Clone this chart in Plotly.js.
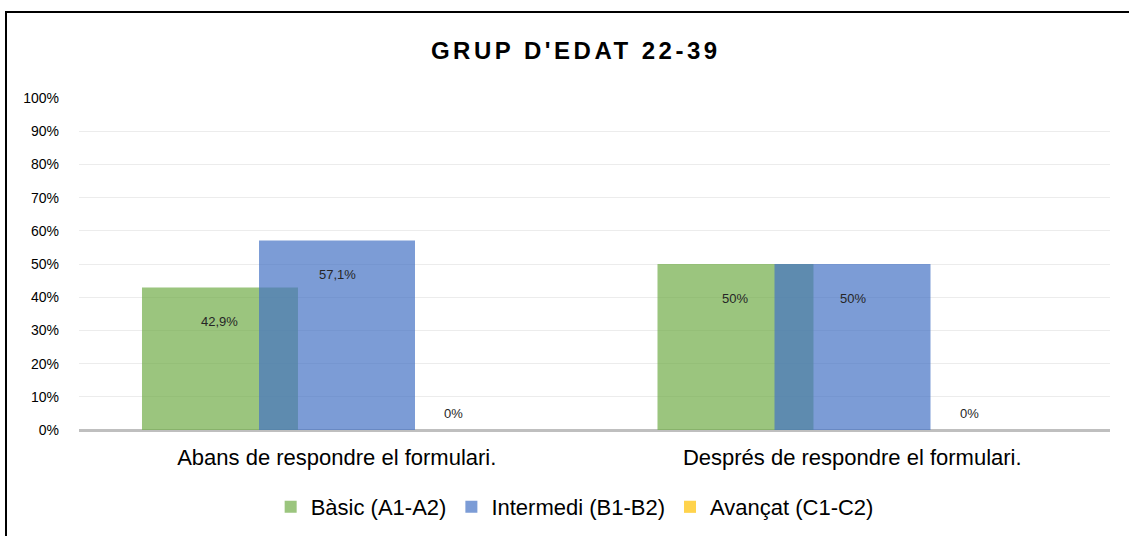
<!DOCTYPE html>
<html>
<head>
<meta charset="utf-8">
<script src="https://cdn.plot.ly/plotly-3.0.1.min.js"></script>
<style>
  html, body { margin: 0; padding: 0; background: #fff; }
  #wrap { position: relative; width: 1129px; height: 536px; overflow: hidden; }
  #chart { width: 1129px; height: 536px; }
  #frame { position: absolute; left: 5px; top: 11px; width: 1200px; height: 600px;
           border-left: 2px solid #000; border-top: 2px solid #000; pointer-events: none; }
  .gtitle { letter-spacing: 3.5px; }
</style>
</head>
<body>
<div id="wrap">
  <div id="chart"></div>
  <div id="frame"></div>
</div>
<script>
const categories = ["Abans de respondre el formulari.", "Després de respondre el formulari."];
const seriesNames = ["Bàsic (A1-A2)", "Intermedi (B1-B2)", "Avançat (C1-C2)"];
const basic = [42.9, 50];
const intermedi = [57.1, 50];
const avancat = [0, 0];
const labelsBasic = ["42,9%", "50%"];
const labelsIntermedi = ["57,1%", "50%"];
const labelsAvancat = ["0%", "0%"];
const yTickVals = [0, 10, 20, 30, 40, 50, 60, 70, 80, 90, 100];
const yTickText = ["0%", "10%", "20%", "30%", "40%", "50%", "60%", "70%", "80%", "90%", "100%"];

const FONT = "Liberation Sans, Arial, sans-serif";
const colors = ["rgba(112,173,71,0.7)", "rgba(68,114,196,0.7)", "rgba(255,192,0,0.7)"];
const barWidth = 0.3026;
const offsets = [-0.3778, -0.1508, 0.0761];
const seriesVals = [basic, intermedi, avancat];
const seriesLabels = [labelsBasic, labelsIntermedi, labelsAvancat];

const xIdx = categories.map((c, i) => i);

const traces = seriesVals.map((vals, s) => ({
  type: "bar",
  name: seriesNames[s],
  x: xIdx,
  y: vals,
  width: barWidth,
  offset: offsets[s],
  marker: { color: colors[s], line: { width: 0 } },
  hoverinfo: "skip"
}));

const annotations = [];
seriesVals.forEach((vals, s) => {
  vals.forEach((v, i) => {
    annotations.push({
      x: i + offsets[s] + barWidth / 2,
      y: v,
      xref: "x", yref: "y",
      text: seriesLabels[s][i],
      showarrow: false,
      yshift: v > 0 ? -34 : 17,
      font: { family: FONT, size: 13, color: "#262626" }
    });
  });
});

const layout = {
  width: 1129, height: 536,
  margin: { l: 79, r: 19, t: 98, b: 106, autoexpand: false },
  paper_bgcolor: "rgba(0,0,0,0)",
  plot_bgcolor: "#fff",
  barmode: "overlay",
  title: {
    text: "<b>GRUP D'EDAT 22-39</b>",
    xref: "container", x: 0.510, xanchor: "center",
    yref: "container", y: 0.905, yanchor: "middle",
    font: { family: FONT, size: 24, color: "#000" }
  },
  xaxis: {
    type: "linear",
    range: [-0.5, 1.5],
    tickvals: xIdx,
    ticktext: categories,
    showgrid: false,
    zeroline: false,
    showline: false,
    ticks: "",
    ticklabelstandoff: 12,
    tickfont: { family: FONT, size: 22, color: "#000" },
    fixedrange: true
  },
  yaxis: {
    range: [0, 100],
    tickvals: yTickVals,
    ticktext: yTickText,
    showgrid: true,
    gridcolor: "#ececec",
    gridwidth: 1,
    zeroline: true,
    zerolinecolor: "#bfbfbf",
    zerolinewidth: 3,
    showline: false,
    ticks: "",
    ticklabelstandoff: 19,
    tickfont: { family: FONT, size: 14, color: "#000" },
    fixedrange: true
  },
  legend: {
    orientation: "h",
    xref: "container", x: 0.509, xanchor: "center",
    yref: "container", y: 0.054, yanchor: "middle",
    font: { family: FONT, size: 22, color: "#000" },
    itemwidth: 30,
    traceorder: "normal"
  },
  annotations: annotations,
  showlegend: true
};

Plotly.newPlot("chart", traces, layout, { displayModeBar: false, staticPlot: true });
</script>
</body>
</html>
